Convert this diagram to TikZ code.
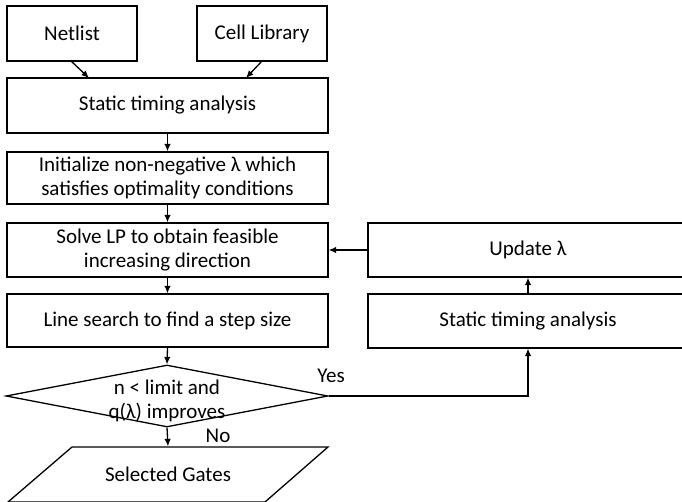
\documentclass[tikz,border=0pt]{standalone}
\usepackage{fontspec}
\setmainfont{Carlito}
\usetikzlibrary{arrows.meta,shapes.geometric,calc}
\begin{document}
\begin{tikzpicture}[x=1pt,y=-1pt,
  font=\fontsize{21}{24}\selectfont,
  line width=1.3pt,
  box/.style={draw,rectangle,inner sep=0pt,align=center},
  arr/.style={-{Latex[length=7.5pt,width=6.5pt]}},
  lbl/.style={inner sep=0pt}]
\useasboundingbox (0,0) rectangle (682,502);
\node[box,minimum width=130,minimum height=55] (net) at (72,33.5) {Netlist};
\node[box,minimum width=130,minimum height=55] (cell) at (262,33.5) {Cell Library};
\node[box,minimum width=321,minimum height=55] (sta) at (167.5,105.5) {Static timing analysis};
\node[box,minimum width=321,minimum height=52] (init) at (167.5,178) {Initialize non-negative λ which\\satisfies optimality conditions};
\node[box,minimum width=321,minimum height=54] (solve) at (167.5,250) {Solve LP to obtain feasible\\increasing direction};
\node[box,minimum width=321,minimum height=53] (line) at (167.5,320.5) {Line search to find a step size};
\node[draw,diamond,minimum width=322,minimum height=62,inner sep=0pt] (dec) at (167,396) {};
\node[lbl,align=center] (dectext) at (167,401) {n < limit and\\q(λ) improves};
\node[minimum width=196,minimum height=55,inner sep=0pt] (gates) at (168,474.5) {Selected Gates};
\draw (72,447) -- (328,447) -- (265,502) -- (8,502) -- cycle;
\node[box,minimum width=320,minimum height=54] (upd) at (528,250) {Update λ};
\node[box,minimum width=320,minimum height=54] (rsta) at (528,321) {Static timing analysis};
\coordinate (netout) at (71,61);
\coordinate (cellout) at (262,61);
\draw[arr] (netout) -- (89,78);
\draw[arr] (cellout) -- (246,78);
\draw[arr] (sta.south -| init.north) -- (init.north);
\draw[arr] (init) -- (solve);
\draw[arr] (solve) -- (line);
\draw[arr] (line.south) -- (dec.north);
\draw[arr] (dec.south) -- (gates.north);
\draw[arr] (upd.west) -- (solve.east);
\draw[arr] (rsta.north) -- (upd.south);
\draw[arr] (dec.east) -| (rsta.south);
\node[lbl] (yes) at (331,376) {Yes};
\node[lbl] (no) at (218,436) {No};
\end{tikzpicture}
\end{document}
